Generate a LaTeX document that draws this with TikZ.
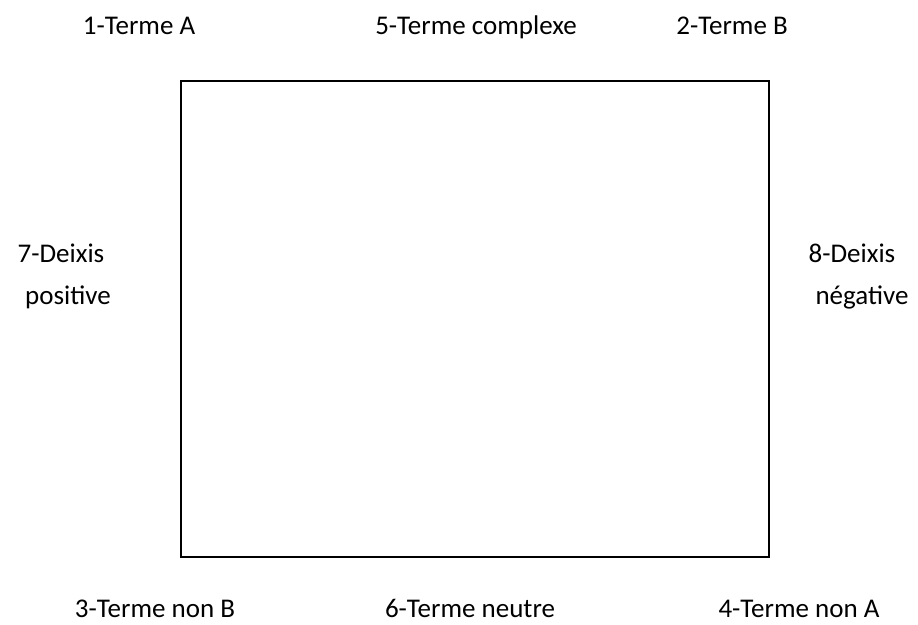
\documentclass[tikz,border=0pt]{standalone}
\usepackage{fontspec}
\setmainfont{Carlito}
\begin{document}
\begin{tikzpicture}[x=1pt,y=-1pt,
    lbl/.style={inner sep=0pt,anchor=base,font=\fontsize{27}{32}\selectfont}]
            \useasboundingbox (0,0) rectangle (918,624);
            % Square
            \node[draw,line width=1.5pt,minimum width=588pt,minimum height=476pt,inner sep=0pt] (S) at (475,319){};
            % Nodes
            \node[lbl] (A) at (139,34){1-Terme A};
            \node[lbl] (C) at (476,34){5-Terme complexe};
            \node[lbl] (B) at (732,34){2-Terme B};
            \node[lbl] (DP) at (61,262){7-Deixis};
            \node[lbl] (DPb) at (68,304){positive};
            \node[lbl] (DN) at (852,262){8-Deixis};
            \node[lbl] (DNb) at (862,304){négative};
            \node[lbl] (NB) at (155,617){3-Terme non B};
            \node[lbl] (N) at (470,617){6-Terme neutre};
            \node[lbl] (NA) at (799,617){4-Terme non A};
        \end{tikzpicture}
\end{document}
